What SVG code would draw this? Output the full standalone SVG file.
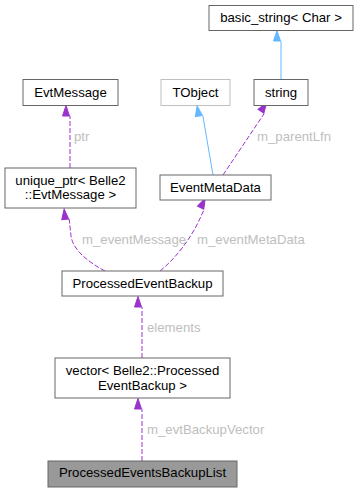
<svg xmlns="http://www.w3.org/2000/svg" width="359" height="492" viewBox="0 0 359 492">
<style>
text{font-family:"Liberation Sans",Arial,sans-serif;font-size:13.2px}
.n rect{fill:#fff;stroke:#666;stroke-width:1}
.n text{fill:#000;text-anchor:middle}
.lbl{fill:#bebebe}
.dp{fill:none;stroke:#9a32cd;stroke-width:1;stroke-dasharray:5,2;marker-end:url(#ap)}
.ib{fill:none;stroke:#63b8ff;stroke-width:1;marker-end:url(#ab)}
</style>
<defs>
<marker id="ap" markerUnits="userSpaceOnUse" markerWidth="12" markerHeight="10" refX="0" refY="4" orient="auto" viewBox="0 -4 12 8" overflow="visible">
<path d="M0,-3.5 L10.5,0 L0,3.5 z" fill="#9a32cd" stroke="#9a32cd" stroke-width="1"/>
</marker>
<marker id="ab" markerUnits="userSpaceOnUse" markerWidth="12" markerHeight="10" refX="0" refY="4" orient="auto" viewBox="0 -4 12 8" overflow="visible">
<path d="M0,-3.5 L10.5,0 L0,3.5 z" fill="#63b8ff" stroke="#63b8ff" stroke-width="1"/>
</marker>
</defs>
<rect width="359" height="492" fill="#fff"/>
<g id="edges">
<path class="ib" d="M281,79 L281,41"/>
<path class="ib" d="M213,175 L202.8,115.4"/>
<path class="dp" d="M223,175 L264.2,113.5"/>
<path class="dp" d="M70,168 L70,116"/>
<path class="dp" d="M105,271 C88,262 73,250 71,236 L69.2,219"/>
<path class="dp" d="M160,271 C175,259 192,238 202,214 L204.2,209.5"/>
<path class="dp" d="M142,358 L142,307"/>
<path class="dp" d="M142,461 L142,409"/>
<text class="lbl" x="74" y="140.5">ptr</text>
<text class="lbl" x="257" y="140.5">m_parentLfn</text>
<text class="lbl" x="82" y="243.5">m_eventMessage</text>
<text class="lbl" x="197" y="243.5">m_eventMetaData</text>
<text class="lbl" x="147" y="331.5">elements</text>
<text class="lbl" x="147" y="433.5">m_evtBackupVector</text>
</g>
<g id="basic_string" class="n"><rect x="209" y="5.5" width="144" height="25"/><text x="281" y="22">basic_string&lt; Char &gt;</text></g>
<g id="TObject" class="n"><rect x="161" y="79.5" width="69" height="26" style="stroke:#bfbfbf"/><text x="195.5" y="96.5">TObject</text></g>
<g id="string" class="n"><rect x="254" y="79.5" width="54" height="26"/><text x="281" y="96.5">string</text></g>
<g id="EvtMessage" class="n"><rect x="23" y="79.5" width="95" height="26"/><text x="70.5" y="96.5">EvtMessage</text></g>
<g id="EventMetaData" class="n"><rect x="160" y="175" width="111" height="25"/><text x="215.5" y="191.5">EventMetaData</text></g>
<g id="unique_ptr" class="n"><rect x="5" y="168" width="131" height="40"/><text x="70.5" y="184.5">unique_ptr&lt; Belle2</text><text x="70.5" y="198.5">::EvtMessage &gt;</text></g>
<g id="ProcessedEventBackup" class="n"><rect x="62" y="271" width="161" height="25"/><text x="142.5" y="287.5">ProcessedEventBackup</text></g>
<g id="vector" class="n"><rect x="55" y="358" width="175" height="40"/><text x="142.5" y="374.5">vector&lt; Belle2::Processed</text><text x="142.5" y="389.5">EventBackup &gt;</text></g>
<g id="ProcessedEventsBackupList" class="n"><rect x="48" y="461" width="189" height="26" style="fill:#999"/><text x="142.5" y="476.5">ProcessedEventsBackupList</text></g>
</svg>
